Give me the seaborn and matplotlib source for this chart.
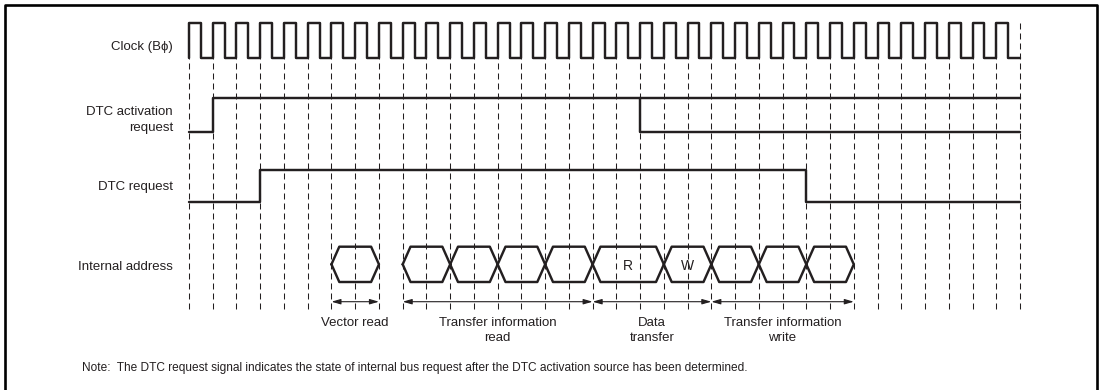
import pandas as pd
import matplotlib.pyplot as plt
import seaborn as sns

# Timing data (in clock cycles, cycle k starts at dashed line k)
n_cycles = 35
act_req_rise = 1          # DTC activation request goes high
act_req_alt_fall = 19     # alternative path: activation request cleared
dtc_req_rise = 3
dtc_req_fall = 26

bus_start = [6, 9, 11, 13, 15, 17, 20, 22, 24, 26]
bus_end = [8, 11, 13, 15, 17, 20, 22, 24, 26, 28]
bus_text = ["", "", "", "", "", "R", "W", "", "", ""]

phase_start = [6, 9, 17, 22]
phase_end = [8, 17, 22, 28]
phase_text = ["Vector read", "Transfer information\nread", "Data\ntransfer",
              "Transfer information\nwrite"]

signal_names = ["Clock (B\u03d5)", "DTC activation\nrequest", "DTC request",
                "Internal address"]
note = ("Note:  The DTC request signal indicates the state of internal bus request "
        "after the DTC activation source has been determined.")

# Layout (pixels)
W, H = 1103, 390
X0 = 189.0
PX = 831.0 / n_cycles
INK = "#231f20"
clk_hi, clk_lo = 22.7, 57.5
act_hi, act_lo = 98.3, 132.3
req_hi, req_lo = 170.0, 202.3
bus_hi, bus_lo = 246.7, 282.0
bus_mid = (bus_hi + bus_lo) / 2
slope = 0.33
arrow_y = 301.7
grid_top, grid_bot = clk_hi, 309.0
label_x = 173.0
label_y = [46.7, 120.0, 186.7, 267.0]


def tx(p):
    return (p - X0) / PX


sns.set_theme(style="white")
plt.rcParams["font.family"] = ["Liberation Sans", "DejaVu Sans"]
plt.rcParams["lines.scale_dashes"] = False

fig = plt.figure(figsize=(W / 100, H / 100), dpi=100)
ax = fig.add_axes([0, 0, 1, 1])
ax.set_xlim(tx(0), tx(W))
ax.set_ylim(H, 0)
ax.axis("off")

# dashed clock grid
for k in range(n_cycles + 1):
    ax.plot([k, k], [grid_top, grid_bot], color=INK, lw=0.75,
            linestyle=(0, (4.3, 2.9)), zorder=1)


def wave(points, **kw):
    df = pd.DataFrame(points, columns=["t", "y"])
    sns.lineplot(data=df, x="t", y="y", sort=False, estimator=None,
                 color=INK, lw=1.75, ax=ax, zorder=3, **kw)


# clock
clk = []
for k in range(n_cycles):
    clk += [(k, clk_lo), (k, clk_hi), (k + 0.5, clk_hi), (k + 0.5, clk_lo)]
clk.append((n_cycles, clk_lo))
wave(clk)

# DTC activation request (two possible states after clearing)
wave([(0, act_lo), (act_req_rise, act_lo), (act_req_rise, act_hi), (n_cycles, act_hi)])
wave([(act_req_alt_fall, act_hi), (act_req_alt_fall, act_lo), (n_cycles, act_lo)])

# DTC request
wave([(0, req_lo), (dtc_req_rise, req_lo), (dtc_req_rise, req_hi),
      (dtc_req_fall, req_hi), (dtc_req_fall, req_lo), (n_cycles, req_lo)])

# internal address bus cycles
for a, b, s in zip(bus_start, bus_end, bus_text):
    wave([(a, bus_mid), (a + slope, bus_hi), (b - slope, bus_hi), (b, bus_mid),
          (b - slope, bus_lo), (a + slope, bus_lo), (a, bus_mid)])
    if s:
        ax.text((a + b) / 2, bus_mid + 1.5, s, ha="center", va="center",
                fontsize=10, color=INK)

# phase arrows and labels
for a, b, s in zip(phase_start, phase_end, phase_text):
    ax.annotate("", xy=(b, arrow_y), xytext=(a, arrow_y),
                arrowprops=dict(arrowstyle="<|-|>,head_length=0.45,head_width=0.13",
                                lw=0.8, color=INK, shrinkA=0, shrinkB=0))
    ax.text((a + b) / 2, 316.5, s, ha="center", va="top", fontsize=9.5,
            color=INK, linespacing=1.35)

# signal names
for name, y in zip(signal_names, label_y):
    ax.text(tx(label_x), y, name, ha="right", va="center", fontsize=9.5,
            color=INK, multialignment="right", linespacing=1.37)

ax.text(tx(82), 368.3, note, ha="left", va="center", fontsize=8.6, color=INK)

# frame (bottom edge is outside the crop)
ax.plot([tx(4.7), tx(4.7), tx(1096.7), tx(1096.7)], [H + 5, 5, 5, H + 5],
        color="black", lw=1.9, zorder=4, clip_on=False)

plt.savefig("out.png", dpi=100)
